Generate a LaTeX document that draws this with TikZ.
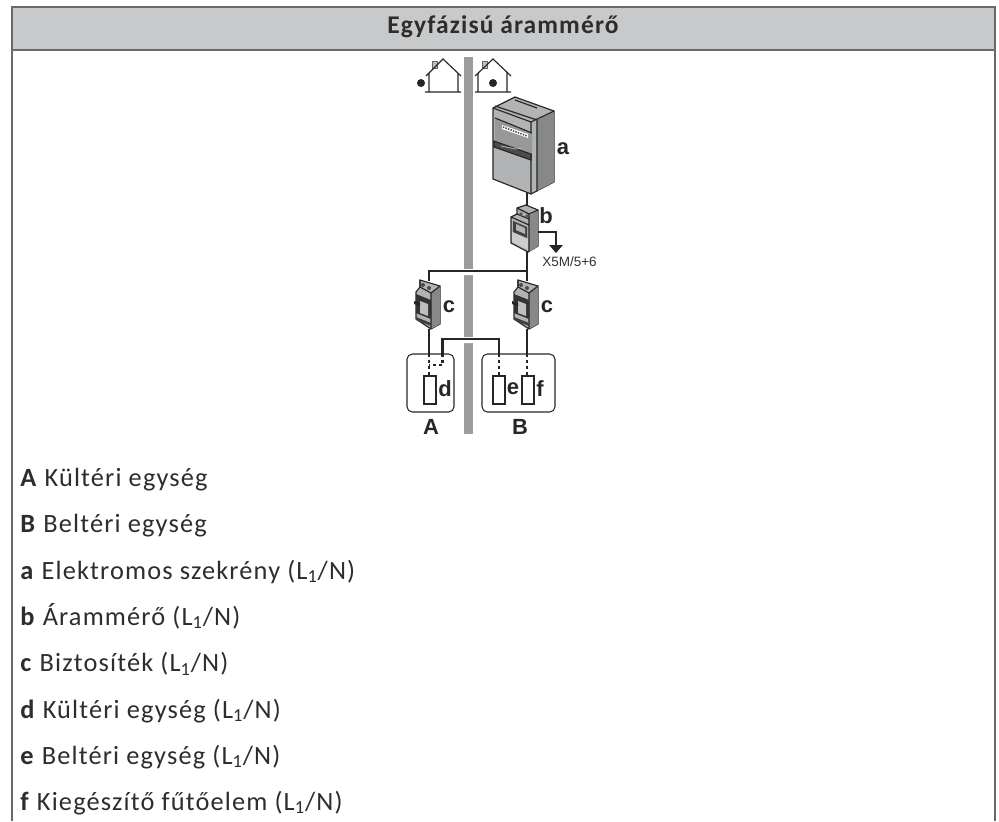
\documentclass[tikz,border=0pt]{standalone}
\usepackage{fontspec}
\setmainfont{Carlito}[LetterSpace=4.4]
\newfontfamily\labelfont{Liberation Sans}
\usepackage{xcolor}
\definecolor{headgray}{RGB}{200,201,202}
\definecolor{framegray}{RGB}{105,105,105}
\definecolor{polegray}{RGB}{155,156,158}
\definecolor{cabgray}{RGB}{178,179,181}
\definecolor{sidegray}{RGB}{135,136,138}
\definecolor{inkgray}{RGB}{45,45,45}
\usetikzlibrary{arrows.meta,positioning,calc}

\begin{document}
\begin{tikzpicture}[
  x=0.02cm,y=-0.02cm,
  frame/.style={draw=framegray,line width=0.85pt},
  wire/.style={draw=black!85,line width=1.6pt},
  dots/.style={draw=black!85,line width=1.5pt,dash pattern=on 1.7pt off 1.7pt},
  thinline/.style={draw=black!85,line width=0.65pt},
  unitbox/.style={rectangle,rounded corners=3pt,draw=black!85,line width=0.6pt,inner sep=0pt,minimum height=1.16cm},
  elem/.style={rectangle,draw=black!85,line width=0.6pt,fill=white,inner sep=0pt,minimum width=0.24cm,minimum height=0.56cm},
  tag/.style={font=\labelfont\bfseries\fontsize{12.5}{14}\selectfont,text=black!85,inner sep=0pt},
  legend/.style={anchor=base west,inner sep=0pt,text=inkgray,font=\fontsize{15}{17}\selectfont},
  breaker/.pic={
    \fill[cabgray,thinline] (-9,-25) -- (11,-19) -- (11,19) -- (2,24) -- (-13,14) -- (-13,-13) -- (-9,-18) -- cycle;
    \fill[sidegray] (2,-12) -- (11,-19) -- (11,19) -- (2,24) -- cycle;
    \draw[thinline] (-9,-18) -- (2,-12) -- (2,24) (-9,-25) -- (-9,-18) (2,-12) -- (11,-19);
    \fill[black!70] (-6,-20) circle (2) (0,-17) circle (2);
    \fill[black!80] (-13,-11) -- (2,-5) -- (2,14) -- (-13,8) -- cycle;
    \fill[white!75!black] (-9,-4) -- (-1,-1) -- (-1,11) -- (-9,8) -- cycle;
    \fill[black!85] (-15,-4) -- (-9,-2) -- (-9,1) -- (-15,-1) -- cycle;
    \fill[black!75] (-13,12) -- (2,18) -- (2,21) -- (-13,15) -- cycle;
  },
]
\useasboundingbox (0,0) rectangle (999,821);

% table frame
\path[fill=headgray] (12,7) rectangle (995,50);
\draw[frame] (12,821) -- (12,7) -- (995,7) -- (995,821);
\draw[frame] (12,50) -- (995,50);
\node[font=\bfseries\fontsize{14.5}{16}\selectfont,text=inkgray,inner sep=0pt] (title) at (503,27) {Egyfázisú árammérő};

% pole
\fill[polegray] (464,57) rectangle (473,434);
\fill[white] (464,269) rectangle (473,275) (464,337) rectangle (473,343);

% houses
\filldraw[fill=black!25,draw=black!60,line width=0.3pt] (432,68) rectangle (437,61);
\draw[thinline] (426,76) -- (443,59) -- (461,76) (429,73) -- (429,92) (458,73) -- (458,92) (425,92) -- (461,92);
\fill[black!85] (421,83) circle (4);
\filldraw[fill=black!25,draw=black!60,line width=0.3pt] (482,68) rectangle (487,61);
\draw[thinline] (475,76) -- (493,59) -- (511,76) (478,73) -- (478,92) (507,73) -- (507,92) (475,92) -- (511,92);
\fill[black!85] (493,83) circle (4);

% cabinet
\filldraw[fill=cabgray,thinline] (493,108) -- (515,97) -- (554,111) -- (554,182) -- (531,194) -- (493,179) -- cycle;
\fill[sidegray] (537,120) -- (554,111) -- (554,182) -- (537,191) -- cycle;
\draw[thinline] (493,108) -- (531,122) -- (531,194) (531,122) -- (554,111) (495,106) -- (537,120) -- (537,191) (515,100) -- (537,108);
\fill[black!15!cabgray] (495,118) -- (532,133) -- (532,154) -- (495,140) -- cycle;
\draw[thinline] (495,118) -- (532,133);
\fill[white] (502,125) -- (528,134) -- (528,138) -- (502,129) -- cycle;
\draw[black!70,line width=0.9pt,dash pattern=on 0.8pt off 0.7pt] (503,127) -- (527,136);
\filldraw[fill=black!70,thinline] (494,141) -- (531,154) -- (531,160) -- (494,147) -- cycle;
\draw[white!70!black,line width=0.5pt] (501,146) -- (516,149) -- (522,148);
\coordinate (cabinet) at (527,193);

% energy meter
\filldraw[fill=cabgray,thinline] (526,205) -- (538,210) -- (538,246) -- (528,252) -- (511,243) -- (511,217) -- (517,214) -- (517,208) -- cycle;
\fill[sidegray] (529,216) -- (538,210) -- (538,246) -- (529,252) -- cycle;
\fill[black!20] (512,232) -- (528,239) -- (528,250) -- (512,242) -- cycle;
\draw[thinline] (511,217) -- (529,225) -- (529,252) (517,208) -- (529,214) -- (538,210) (529,214) -- (529,225) (517,214) -- (529,219);
\fill[black!65] (521,214) circle (1.8) (527,216) circle (1.8);
\fill[black!75] (513,221) -- (527,227) -- (527,238) -- (513,232) -- cycle;
\fill[cabgray] (516,224) -- (525,228) -- (525,234) -- (516,230) -- cycle;
\coordinate (meterTop) at (527,206);
\coordinate (meterBot) at (527,251);
\coordinate (meterOut) at (538,232);
\node[font=\labelfont\fontsize{7.7}{9}\selectfont,text=black!80,inner sep=0pt] (x5m) at (569.5,262) {X5M/5+6};
\coordinate (outEnd) at (556,253);
\draw[wire,-{Triangle[length=4.5pt,width=7.5pt]}] (meterOut) -| (outEnd);
\draw[wire] (cabinet) -- (meterTop);

% breakers
\pic (brkA) at (429,305) {breaker};
\pic (brkB) at (527,305) {breaker};
\coordinate (brkAtop) at (429,281);
\coordinate (brkAbot) at (429,329);
\coordinate (brkBtop) at (527,281);
\coordinate (brkBbot) at (527,329);
\coordinate (split) at (527,271);
\draw[wire] (meterBot) -- (brkBtop);
\draw[wire] (split) -| (brkAtop);

% units
\node[unitbox,minimum width=0.94cm] (A) at (430.5,383) {};
\node[unitbox,minimum width=1.46cm] (B) at (518.5,383) {};
\node[elem] (d) at (430,390) {};
\node[elem] (e) at (499,390) {};
\node[elem] (f) at (528,390) {};
\coordinate (inA) at (429,354);
\coordinate (inA2) at (442.5,354);
\coordinate (inB) at (499,354);
\coordinate (inF) at (527,354);
\coordinate (joinA) at (429,365);
\draw[wire] (brkAbot) -- (inA);
\draw[wire] (brkBbot) -- (inF);
\draw[wire] (inA2) |- (470,339) -| (inB);
\draw[dots] (inA) -- (d.north -| inA);
\draw[dots] (inB) -- (e.north -| inB);
\draw[dots] (inF) -- (f.north -| inF);
\draw[dots] (inA2) |- (joinA);

% letters
\node[tag] (la) at (563,149) {a};
\node[tag] (lb) at (546,216) {b};
\node[tag] (lc1) at (449,307) {c};
\node[tag] (lc2) at (547,307) {c};
\node[tag] (ld) at (445,389) {d};
\node[tag] (le) at (513,389) {e};
\node[tag] (lf) at (540,389) {f};
\node[tag] (lA) at (431,427) {A};
\node[tag] (lB) at (520,427) {B};

% legend
\node[legend] (t1) at (20,486) {\textbf{A} Kültéri egység};
\node[legend] (t2) at (20,532.5) {\textbf{B} Beltéri egység};
\node[legend] (t3) at (20,579) {\textbf{a} Elektromos szekrény (L\textsubscript{1}/N)};
\node[legend] (t4) at (20,625) {\textbf{b} Árammérő (L\textsubscript{1}/N)};
\node[legend] (t5) at (20,671.5) {\textbf{c} Biztosíték (L\textsubscript{1}/N)};
\node[legend] (t6) at (20,718) {\textbf{d} Kültéri egység (L\textsubscript{1}/N)};
\node[legend] (t7) at (20,764) {\textbf{e} Beltéri egység (L\textsubscript{1}/N)};
\node[legend] (t8) at (20,810) {\textbf{f} Kiegészítő fűtőelem (L\textsubscript{1}/N)};
\end{tikzpicture}
\end{document}
